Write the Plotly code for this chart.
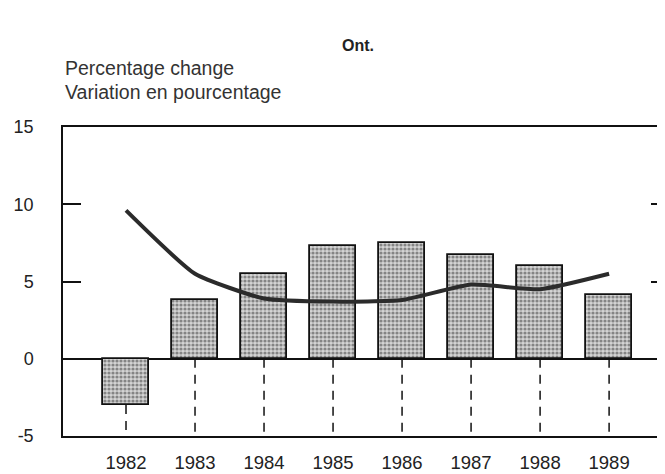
import plotly.graph_objects as go

years = [1982, 1983, 1984, 1985, 1986, 1987, 1988, 1989]
year_labels = ["1982", "1983", "1984", "1985", "1986", "1987", "1988", "1989"]
bar_values = [-3.0, 3.8, 5.5, 7.3, 7.5, 6.7, 6.0, 4.1]
line_values = [9.6, 5.5, 3.9, 3.7, 3.8, 4.8, 4.5, 5.5]
y_min, y_max = -5, 15

FONT = "Liberation Sans, Arial, Helvetica, sans-serif"

fig = go.Figure()

# dashed drop lines from bar bottom (or zero) down to axis
dx, dy = [], []
for x, v in zip(years, bar_values):
    dx += [x, x, None]
    dy += [min(0, v), y_min, None]
fig.add_trace(go.Scatter(x=dx, y=dy, mode="lines",
                         line=dict(color="#111", width=1.5, dash="9px,7px"),
                         hoverinfo="skip", showlegend=False))

fig.add_trace(go.Bar(
    x=years, y=bar_values, width=0.67,
    marker=dict(color="#c9c9c9",
                line=dict(color="#111", width=1.8),
                pattern=dict(shape=".", fgcolor="#333", bgcolor="#d4d4d4",
                             size=4, solidity=0.5)),
    showlegend=False))

fig.add_trace(go.Scatter(
    x=years, y=line_values, mode="lines",
    line=dict(color="#2b2b2b", width=4, shape="spline", smoothing=0.5),
    showlegend=False))

# right-side ticks (no axis line)
fig.add_trace(go.Scatter(x=[years[0]], y=[None], yaxis="y2", showlegend=False,
                         hoverinfo="skip"))

# page body has an 8px margin, so the figure is shrunk by 8px and shifted
fig.update_layout(
    width=657, height=466,
    margin=dict(l=55, r=0, t=119, b=38),
    paper_bgcolor="white", plot_bgcolor="white",
    font=dict(family=FONT, color="#222"),
    bargap=0,
    xaxis=dict(range=[1981.087, 1989.81], tickvals=years, ticktext=year_labels,
               automargin=False,
               showline=True, linecolor="#111", linewidth=1.5, mirror=True,
               ticks="outside", ticklen=9, tickcolor="rgba(0,0,0,0)",
               showgrid=False, zeroline=False,
               tickfont=dict(size=18.5, color="#222")),
    yaxis=dict(range=[y_min, y_max], tickvals=[-5, 0, 5, 10, 15],
               ticktext=["-5", "0", "5", "10", "15"], automargin=False,
               showline=True, linecolor="#111", linewidth=1.5,
               ticks="inside", ticklen=18, tickwidth=1.5, tickcolor="#111",
               ticklabelstandoff=24,
               showgrid=False, zeroline=True, zerolinecolor="#111",
               zerolinewidth=1.5, tickfont=dict(size=18, color="#222")),
    yaxis2=dict(range=[y_min, y_max], overlaying="y", side="right",
                automargin=False,
                tickvals=[5, 10], showticklabels=False, showline=False,
                ticks="inside", ticklen=14, tickwidth=1.5, tickcolor="#111",
                showgrid=False, zeroline=False),
    annotations=[
        dict(text="<b>Ont.</b>", xref="paper", yref="paper", x=0.49, y=1.265,
             xanchor="center", yanchor="middle", showarrow=False,
             font=dict(size=16, color="#222")),
        dict(text="Percentage change", xref="paper", yref="paper", x=0, y=1.191,
             xanchor="left", yanchor="middle", showarrow=False,
             font=dict(size=19.5, color="#333")),
        dict(text="Variation en pourcentage", xref="paper", yref="paper", x=0,
             y=1.113, xanchor="left", yanchor="middle", showarrow=False,
             font=dict(size=19.5, color="#333")),
    ],
)

fig.write_html("out.html")
